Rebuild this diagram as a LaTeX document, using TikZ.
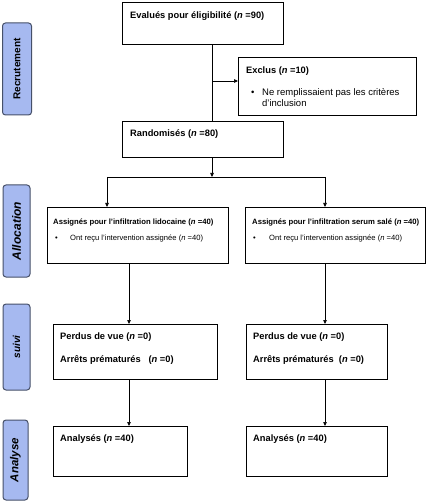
\documentclass[tikz,border=0pt]{standalone}
\usepackage{fontspec}
\setmainfont{Liberation Sans}
\usetikzlibrary{arrows.meta}
\definecolor{sidefill}{RGB}{166,185,240}
\definecolor{sidedraw}{RGB}{70,80,105}
\begin{document}
\begin{tikzpicture}[x=1pt,y=-1pt,
  box/.style={draw=black, line width=0.8pt, rectangle, inner sep=0pt, anchor=north west},
  side/.style={draw=sidedraw, fill=sidefill, rounded corners=3pt, line width=1pt, rotate=90, inner sep=0pt, font=\bfseries},
  txt/.style={anchor=west, inner sep=0pt},
  ttl/.style={txt, font=\bfseries\fontsize{9.3}{11}\selectfont},
  sml/.style={txt, font=\fontsize{7.6}{9}\selectfont},
  smlb/.style={txt, font=\bfseries\fontsize{7.7}{9}\selectfont},
  exc/.style={txt, font=\fontsize{9.5}{11}\selectfont},
  conn/.style={draw=black, line width=0.7pt},
  arr/.style={conn, -{Triangle[length=4pt,width=3.5pt]}}]
\useasboundingbox (0,0) rectangle (428,502);
% side labels
\node[side, minimum width=92pt, minimum height=29pt, font=\bfseries\fontsize{10}{12}\selectfont] (s1) at (17,69) {Recrutement};
\node[side, minimum width=92pt, minimum height=27pt, font=\bfseries\itshape\fontsize{12}{14}\selectfont] (s2) at (16.5,231) {Allocation};
\node[side, minimum width=86pt, minimum height=27pt, font=\bfseries\itshape\fontsize{10}{12}\selectfont] (s3) at (16.5,347) {suivi};
\node[side, minimum width=80pt, minimum height=25pt, font=\bfseries\itshape\fontsize{11.5}{14}\selectfont] (s4) at (15.5,460) {Analyse};
% boxes
\node[box, minimum width=161pt, minimum height=42pt] (b1) at (122,2.5) {};
\node[box, minimum width=178pt, minimum height=58pt] (ex) at (238,57) {};
\node[box, minimum width=161pt, minimum height=36pt] (ra) at (122,121) {};
\node[box, minimum width=181pt, minimum height=56pt] (al) at (47,207) {};
\node[box, minimum width=180pt, minimum height=56pt] (ar) at (245,207) {};
\node[box, minimum width=164pt, minimum height=55pt] (sl) at (53,324) {};
\node[box, minimum width=141pt, minimum height=55pt] (sr) at (246,324) {};
\node[box, minimum width=134pt, minimum height=50pt] (nl) at (53,426) {};
\node[box, minimum width=141pt, minimum height=50pt] (nr) at (246,426) {};
% texts
\node[ttl] (t1) at (130,16) {Evalués pour éligibilité (\textit{n} =90)};
\node[ttl] (t2) at (246,71) {Exclus (\textit{n} =10)};
\node[exc] (t3a) at (251,93) {•};
\node[exc] (t3b) at (262,93) {Ne remplissaient pas les critères};
\node[exc] (t3c) at (262,103) {d'inclusion};
\node[ttl] (t4) at (130,134) {Randomisés (\textit{n} =80)};
\node[smlb] (t5) at (53,222) {Assignés pour l'infiltration lidocaine (\textit{n} =40)};
\node[sml] (t6a) at (55,239) {•};
\node[sml] (t6b) at (70,239) {Ont reçu l'intervention assignée (\textit{n} =40)};
\node[smlb] (t7) at (252,222) {Assignés pour l'infiltration serum salé (\textit{n} =40)};
\node[sml] (t8a) at (253,239) {•};
\node[sml] (t8b) at (269,239) {Ont reçu l'intervention assignée (\textit{n} =40)};
\node[ttl] (t9) at (60,337) {Perdus de vue (\textit{n} =0)};
\node[ttl] (t10) at (60,360) {Arrêts prématurés \ \ (\textit{n} =0)};
\node[ttl] (t11) at (253,337) {Perdus de vue (\textit{n} =0)};
\node[ttl] (t12) at (253,360) {Arrêts prématurés \ (\textit{n} =0)};
\node[ttl] (t13) at (60,439) {Analysés (\textit{n} =40)};
\node[ttl] (t14) at (253,439) {Analysés (\textit{n} =40)};
% connectors
\coordinate (j1) at (212,81);
\coordinate (j2) at (212,177);
\coordinate (jl) at (129,177);
\coordinate (jr) at (325,177);
\draw[conn] (b1.south -| j1) -- (ra.north -| j1);
\draw[arr] (j1) -- (ex.west |- j1);
\draw[arr] (ra.south -| j2) -- (j2);
\draw[conn] (107,177) coordinate (jl0) -- (jr);
\draw[arr] (jl0) -- (al.north -| jl0);
\draw[arr] (jr) -- (ar.north -| jr);
\draw[arr] (al.south -| jl) -- (sl.north -| jl);
\draw[arr] (ar.south -| jr) -- (sr.north -| jr);
\draw[arr] (sl.south -| jl) -- (nl.north -| jl);
\draw[arr] (sr.south -| jr) -- (nr.north -| jr);
\end{tikzpicture}
\end{document}
